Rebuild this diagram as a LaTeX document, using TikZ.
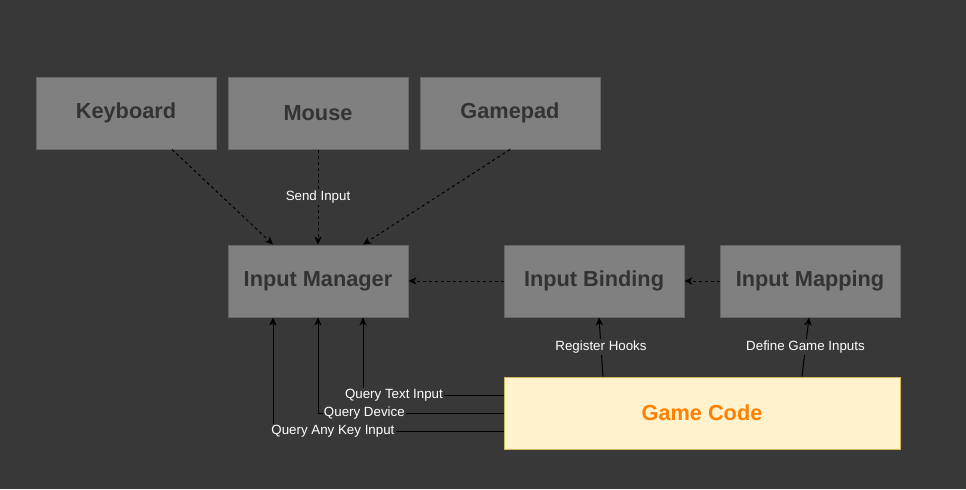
\documentclass[tikz,border=0pt]{standalone}
\usepackage{fontspec}
\setmainfont{Liberation Sans}
\usetikzlibrary{arrows.meta}

\definecolor{bg}{HTML}{383838}
\definecolor{boxfill}{HTML}{808080}
\definecolor{boxline}{HTML}{666666}
\definecolor{boxtext}{HTML}{333333}
\definecolor{gamefill}{HTML}{FFF2CC}
\definecolor{gameline}{HTML}{D6B656}
\definecolor{gametext}{HTML}{FF8000}

\def\px{0.75pt}

\tikzset{
    box/.style={draw=boxline, fill=boxfill, line width=\px, minimum width=180*\px, minimum height=72*\px,
        inner sep=0pt, text=boxtext, font=\fontsize{16.3}{19}\selectfont\bfseries},
    flow/.style={-{Stealth[length=6pt, width=5.5pt, inset=1.8pt]}, line width=\px, black},
    hint/.style={flow, dash pattern=on 2.25pt off 2.25pt},
    tag/.style={fill=bg, text=white, inner sep=1pt, font=\fontsize{10}{12}\selectfont}
}

\begin{document}
\begin{tikzpicture}[x=\px, y=-\px]
    % Background
    \fill[bg] (0,0) rectangle (966,489);
    \useasboundingbox (0,0) rectangle (966,489);

    % Devices
    \node[box] (keyboard) at (126,113) {Keyboard};
    \node[box] (mouse) at (318,113) {Mouse};
    \node[box] (gamepad) at (510,113) {Gamepad};

    % Input layer
    \node[box] (manager) at (318,281) {Input Manager};
    \node[box] (binding) at (594,281) {Input Binding};
    \node[box] (mapping) at (810,281) {Input Mapping};

    % Game Code
    \node[box, fill=gamefill, draw=gameline, text=gametext, minimum width=396*\px] (game) at (702,413) {Game Code};

    % Send Input
    \draw[hint] ([xshift=46*\px]keyboard.south) -- ([xshift=-45*\px]manager.north);
    \draw[hint] (mouse.south) -- node[tag] {Send Input} (manager.north);
    \draw[hint] (gamepad.south) -- ([xshift=45*\px]manager.north);

    % Binding and Mapping
    \draw[hint] (binding) -- (manager);
    \draw[hint] (mapping) -- (binding);

    % Hooks
    \draw[flow] ([xshift=-99*\px]game.north) -- node[tag] {Register Hooks} ([xshift=5*\px]binding.south);
    \draw[flow] ([xshift=100*\px]game.north) -- node[tag] {Define Game Inputs} ([xshift=-1*\px]mapping.south);

    % Queries
    \draw[flow] ([yshift=18*\px]game.west) -| node[tag, pos=0.39] {Query Text Input} ([xshift=45*\px]manager.south);
    \draw[flow] (game.west) -| node[tag, pos=0.375] {Query Device} (manager.south);
    \draw[flow] ([yshift=-18*\px]game.west) -| node[tag, pos=0.37] {Query Any Key Input} ([xshift=-45*\px]manager.south);
\end{tikzpicture}
\end{document}
